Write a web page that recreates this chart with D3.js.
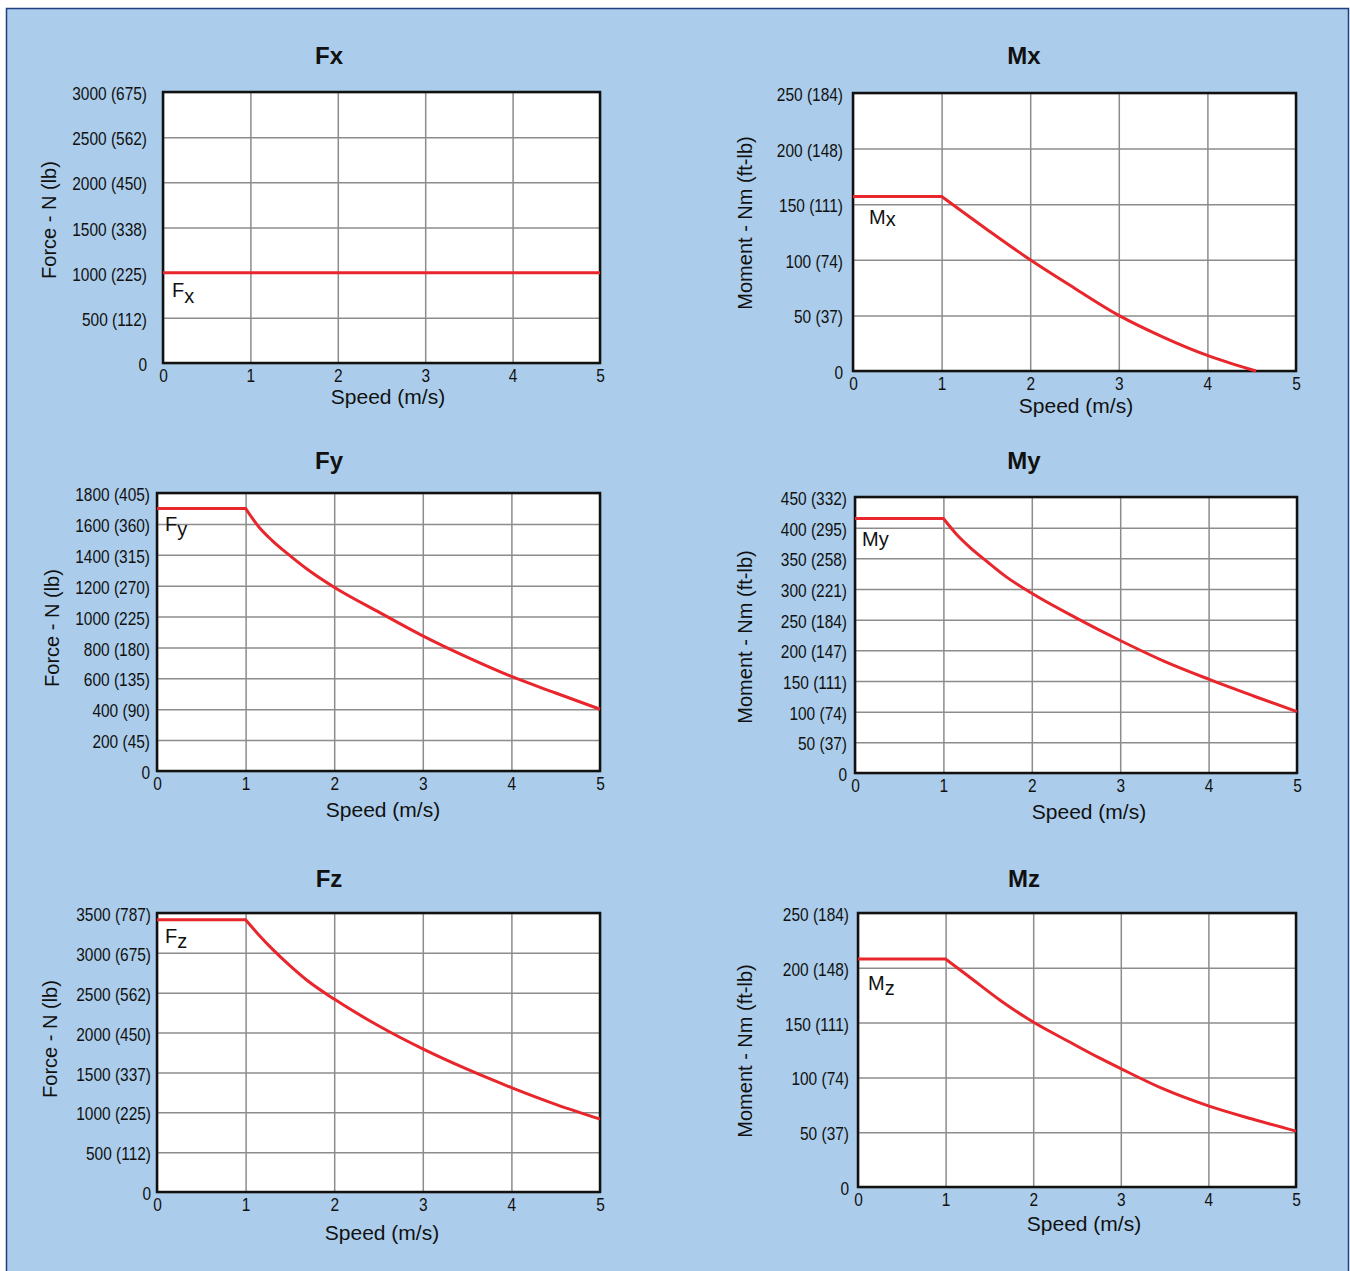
<!DOCTYPE html>
<html>
<head>
<meta charset="utf-8">
<script src="https://cdn.jsdelivr.net/npm/d3@7"></script>
<style>
  body { margin: 0; background: #fff; }
  svg { display: block; font-family: "Liberation Sans", Arial, Helvetica, sans-serif; }
  .tick text { font-size: 18px; fill: #111; }
  .grid line { stroke: #8c8c8c; stroke-width: 1.5; }
  .domain { display: none; }
</style>
</head>
<body>
<svg id="chart" width="1350" height="1271"></svg>
<script>
// speed axis, shared by all six panels
const speedTicks = [0, 1, 2, 3, 4, 5];

// Fx
const fxTicks = [0, 500, 1000, 1500, 2000, 2500, 3000];
const fxTickLabels = ['0', '500 (112)', '1000 (225)', '1500 (338)', '2000 (450)', '2500 (562)', '3000 (675)'];
const fxSpeed = [0, 5];
const fxValue = [1000, 1000];

// Mx
const mxTicks = [0, 50, 100, 150, 200, 250];
const mxTickLabels = ['0', '50 (37)', '100 (74)', '150 (111)', '200 (148)', '250 (184)'];
const mxSpeed = [0, 1, 1.5, 2, 2.5, 3, 3.5, 4, 4.3, 4.55];
const mxValue = [157, 157, 128, 100, 74.5, 50, 30.5, 14, 6, 0];

// Fy
const fyTicks = [0, 200, 400, 600, 800, 1000, 1200, 1400, 1600, 1800];
const fyTickLabels = ['0', '200 (45)', '400 (90)', '600 (135)', '800 (180)', '1000 (225)', '1200 (270)', '1400 (315)', '1600 (360)', '1800 (405)'];
const fySpeed = [0, 1, 1.15, 1.3, 1.5, 1.7, 2, 2.5, 3, 3.5, 4, 4.5, 5];
const fyValue = [1700, 1700, 1580, 1492, 1395, 1305, 1190, 1030, 875, 737, 612, 505, 400];

// My
const myTicks = [0, 50, 100, 150, 200, 250, 300, 350, 400, 450];
const myTickLabels = ['0', '50 (37)', '100 (74)', '150 (111)', '200 (147)', '250 (184)', '300 (221)', '350 (258)', '400 (295)', '450 (332)'];
const mySpeed = [0, 1, 1.15, 1.3, 1.5, 1.7, 2, 2.5, 3, 3.5, 4, 4.5, 5];
const myValue = [415, 415, 389, 368, 344, 321, 293, 253, 216, 182, 153, 126, 100];

// Fz
const fzTicks = [0, 500, 1000, 1500, 2000, 2500, 3000, 3500];
const fzTickLabels = ['0', '500 (112)', '1000 (225)', '1500 (337)', '2000 (450)', '2500 (562)', '3000 (675)', '3500 (787)'];
const fzSpeed = [0, 1, 1.15, 1.3, 1.5, 1.7, 2, 2.5, 3, 3.5, 4, 4.5, 5];
const fzValue = [3415, 3415, 3225, 3050, 2840, 2650, 2420, 2085, 1795, 1540, 1310, 1100, 915];

// Mz
const mzTicks = [0, 50, 100, 150, 200, 250];
const mzTickLabels = ['0', '50 (37)', '100 (74)', '150 (111)', '200 (148)', '250 (184)'];
const mzSpeed = [0, 1, 1.25, 1.63, 2, 2.4, 2.75, 3, 3.5, 4, 4.5, 5];
const mzValue = [208, 208, 193, 170, 150.5, 133, 118, 108, 89, 74, 62, 51];

const forceTitle = 'Force - N (lb)';
const momentTitle = 'Moment - Nm (ft-lb)';

const panels = [
  { title: 'Fx', tx: 329, ty: 64, box: [163, 600, 92, 363], ticks: fxTicks, labels: fxTickLabels, speed: fxSpeed, value: fxValue,
    yTitle: forceTitle, yTitleX: 49, yTitleY: 220, sym: ['F', 'x', 6], symX: 172, symY: 297, xTitleX: 388, xTitleY: 404, gap: 16 },
  { title: 'Mx', tx: 1024, ty: 64, box: [853, 1296, 93, 371], ticks: mxTicks, labels: mxTickLabels, speed: mxSpeed, value: mxValue,
    yTitle: momentTitle, yTitleX: 745, yTitleY: 223, sym: ['M', 'x', 2], symX: 869, symY: 224, xTitleX: 1076, xTitleY: 413, gap: 10 },
  { title: 'Fy', tx: 329, ty: 469, box: [157, 600, 493, 771], ticks: fyTicks, labels: fyTickLabels, speed: fySpeed, value: fyValue,
    yTitle: forceTitle, yTitleX: 52, yTitleY: 628, sym: ['F', 'y', 5], symX: 165, symY: 531, xTitleX: 383, xTitleY: 817, gap: 7 },
  { title: 'My', tx: 1024, ty: 469, box: [855, 1297, 497, 773], ticks: myTicks, labels: myTickLabels, speed: mySpeed, value: myValue,
    yTitle: momentTitle, yTitleX: 745, yTitleY: 637, sym: ['M', 'y', 0], symX: 862, symY: 546, xTitleX: 1089, xTitleY: 819, gap: 8 },
  { title: 'Fz', tx: 329, ty: 887, box: [157, 600, 913, 1192], ticks: fzTicks, labels: fzTickLabels, speed: fzSpeed, value: fzValue,
    yTitle: forceTitle, yTitleX: 50, yTitleY: 1039, sym: ['F', 'z', 5], symX: 165, symY: 943, xTitleX: 382, xTitleY: 1240, gap: 6 },
  { title: 'Mz', tx: 1024, ty: 887, box: [858, 1296, 913, 1187], ticks: mzTicks, labels: mzTickLabels, speed: mzSpeed, value: mzValue,
    yTitle: momentTitle, yTitleX: 745, yTitleY: 1051, sym: ['M', 'z', 5], symX: 868, symY: 990, xTitleX: 1084, xTitleY: 1231, gap: 9 },
];

// the tick labels in the source are a condensed face; squeeze the regular one
const squeeze = 0.86;

const svg = d3.select('#chart');

svg.append('rect')
  .attr('x', 6.5).attr('y', 8.5)
  .attr('width', 1342).attr('height', 1275)
  .attr('fill', '#abcdeb')
  .attr('stroke', '#1f3f7f')
  .attr('stroke-width', 1.5);

panels.forEach((p) => {
  const [left, right, top, bottom] = p.box;
  const width = right - left;
  const height = bottom - top;

  const xScale = d3.scaleLinear().domain([0, 5]).range([0, width]);
  const yScale = d3.scaleLinear().domain([0, d3.max(p.ticks)]).range([height, 0]);

  svg.append('text')
    .attr('x', p.tx).attr('y', p.ty)
    .attr('text-anchor', 'middle')
    .attr('font-size', 24).attr('font-weight', 'bold')
    .attr('fill', '#111')
    .text(p.title);

  const g = svg.append('g').attr('transform', `translate(${left}, ${top})`);

  g.append('rect')
    .attr('width', width).attr('height', height)
    .attr('fill', '#fff');

  g.append('g')
    .attr('class', 'grid')
    .attr('transform', `translate(0, ${height})`)
    .call(d3.axisBottom(xScale).tickValues(speedTicks).tickSize(-height).tickPadding(6).tickFormat(d3.format('d')))
    .call((ax) => ax.selectAll('.tick text')
      .attr('dy', '0.72em')
      .attr('transform', `scale(${squeeze}, 1)`));

  g.append('g')
    .attr('class', 'grid')
    .call(d3.axisLeft(yScale).tickValues(p.ticks).tickSize(-width).tickPadding(p.gap)
      .tickFormat((d, i) => p.labels[i]))
    .call((ax) => ax.selectAll('.tick text')
      .attr('x', -p.gap / squeeze)
      .attr('dy', '0.42em')
      .attr('transform', `scale(${squeeze}, 1)`));

  g.append('rect')
    .attr('width', width).attr('height', height)
    .attr('fill', 'none')
    .attr('stroke', '#111')
    .attr('stroke-width', 2.5);

  // rated value is flat up to the first break, then falls off as a smooth curve
  const pts = p.speed.map((s, i) => [s, p.value[i]]);
  let d;
  if (pts.length === 2) {
    d = d3.line().x((q) => xScale(q[0])).y((q) => yScale(q[1]))(pts);
  } else {
    const fall = d3.line()
      .x((q) => xScale(q[0]))
      .y((q) => yScale(q[1]))
      .curve(d3.curveMonotoneX)(pts.slice(1));
    d = `M${xScale(pts[0][0])},${yScale(pts[0][1])}L${fall.slice(1)}`;
  }

  g.append('path')
    .attr('d', d)
    .attr('fill', 'none')
    .attr('stroke', '#e8262c')
    .attr('stroke-width', 3);

  const sym = svg.append('text')
    .attr('x', p.symX).attr('y', p.symY)
    .attr('font-size', 20)
    .attr('fill', '#111');
  sym.append('tspan').text(p.sym[0]);
  sym.append('tspan').attr('dy', p.sym[2]).text(p.sym[1]);

  svg.append('text')
    .attr('x', p.xTitleX).attr('y', p.xTitleY)
    .attr('text-anchor', 'middle')
    .attr('font-size', 21)
    .attr('fill', '#111')
    .text('Speed (m/s)');

  svg.append('text')
    .attr('transform', `translate(${p.yTitleX}, ${p.yTitleY}) rotate(-90)`)
    .attr('text-anchor', 'middle')
    .attr('dy', '0.35em')
    .attr('font-size', 20)
    .attr('fill', '#111')
    .text(p.yTitle);
});
</script>
</body>
</html>
